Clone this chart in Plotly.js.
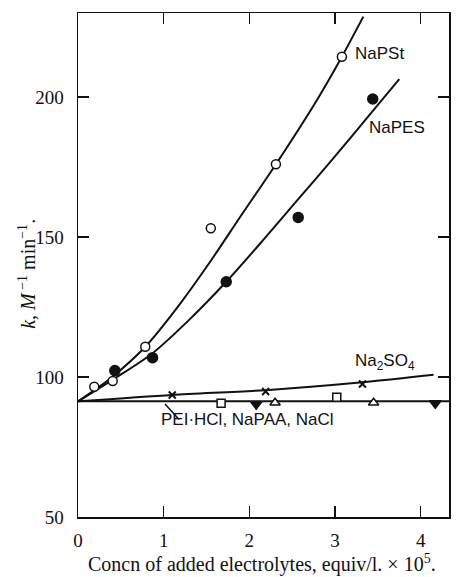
<!DOCTYPE html>
<html><head><meta charset="utf-8">
<script src="https://cdn.plot.ly/plotly-3.0.1.min.js"></script>
<style>html,body{margin:0;padding:0;background:#fff}#plot{width:458px;height:577px}</style>
</head><body><div id="plot"></div>
<script>
// Data points
const napstX = [0.19, 0.405, 0.785, 1.55, 2.31, 3.08];
const napstY = [96.5, 98.6, 110.8, 153.1, 176, 214.4];
const napesX = [0.43, 0.87, 1.73, 2.57, 3.44];
const napesY = [102.3, 106.9, 134, 157, 199.3];
const na2so4X = [1.10, 2.19, 3.32];
const na2so4Y = [93.6, 94.8, 97.5];
const peiX = [1.67, 3.02];
const peiY = [90.6, 92.75];
const napaaX = [2.30, 3.45];
const napaaY = [90.8, 90.8];
const naclX = [2.08, 4.17];
const naclY = [90.3, 90.6];
// Fitted curves
const napstCurveX = [0, 0.2, 0.4, 0.785, 1.2, 1.55, 1.9, 2.31, 2.8, 3.08, 3.33];
const napstCurveY = [91.3, 95.5, 100, 110.8, 126.5, 141.5, 157.5, 176, 199.5, 214.4, 228.7];
const napesCurveX = [0, 0.43, 0.87, 1.3, 1.73, 2.15, 2.57, 2.88, 3.06, 3.4, 3.75];
const napesCurveY = [91.3, 99.5, 108.5, 120.5, 134, 148.5, 163.5, 174.5, 181, 193.5, 206.4];
const na2so4CurveX = [0, 1.1, 2.19, 3.32, 4.15];
const na2so4CurveY = [91.3, 93.6, 95.3, 98.1, 100.8];
const flatX = [0, 4.33];
const flatY = [91.3, 91.3];
const xTicks = [0, 1, 2, 3, 4];
const yTicks = [50, 100, 150, 200];

const blk = '#111';
const line = (x, y) => ({x, y, mode: 'lines', line: {color: blk, width: 2, shape: 'spline', smoothing: 0.8}, hoverinfo: 'skip', showlegend: false});
const pts = (x, y, symbol, size, fill) => ({x, y, mode: 'markers', marker: {symbol, size, color: fill, line: {color: blk, width: 1.5}}, showlegend: false});

const data = [
  line(flatX, flatY),
  line(na2so4CurveX, na2so4CurveY),
  line(napesCurveX, napesCurveY),
  line(napstCurveX, napstCurveY),
  {x: na2so4X, y: na2so4Y, mode: 'markers', marker: {symbol: 'x-thin', size: 7, line: {color: blk, width: 2}}, showlegend: false},
  pts(peiX, peiY, 'square', 8, '#fff'),
  pts(napaaX, napaaY, 'triangle-up', 9, '#fff'),
  pts(naclX, naclY, 'triangle-down', 10, blk),
  pts(napstX, napstY, 'circle', 9, '#fff'),
  pts(napesX, napesY, 'circle', 10, blk)
];

const serif = 'Liberation Serif, Times New Roman, serif';
const sans = 'Liberation Sans, Arial, sans-serif';
const ann = (x, y, text, size) => ({x, y, xref: 'x', yref: 'y', text, showarrow: false, xanchor: 'center', yanchor: 'middle', font: {family: sans, size: size || 16, color: blk}});

const layout = {
  width: 458, height: 577,
  margin: {l: 78, r: 9, t: 13, b: 60},
  paper_bgcolor: '#fff', plot_bgcolor: '#fff',
  showlegend: false,
  xaxis: {range: [0, 4.33], tickvals: xTicks, ticks: 'inside', ticklen: 11, tickwidth: 1.5, tickcolor: blk,
    showline: true, linecolor: blk, linewidth: 1.5, mirror: 'ticks', showgrid: false, zeroline: false,
    tickfont: {family: serif, size: 19, color: blk}, ticklabelstandoff: 6},
  yaxis: {range: [50, 230], tickvals: yTicks, ticks: 'inside', ticklen: 11, tickwidth: 1.5, tickcolor: blk,
    showline: true, linecolor: blk, linewidth: 1.5, mirror: 'ticks', showgrid: false, zeroline: false,
    tickfont: {family: serif, size: 19, color: blk}, ticklabelstandoff: 9},
  annotations: [
    ann(3.52, 215.5, 'NaPSt', 17),
    ann(3.72, 189, 'NaPES', 17),
    ann(3.58, 105.2, 'Na<sub>2</sub>SO<sub>4</sub>', 17),
    ann(1.98, 85.0, 'PEI·HCl, NaPAA, NaCl', 17),
    {xref: 'paper', yref: 'paper', x: -0.138, y: 0.482, xanchor: 'center', yanchor: 'middle', textangle: -90, showarrow: false,
      text: '<i>k</i>, <i>M</i><sup> −1</sup> min<sup>−1</sup>.', font: {family: serif, size: 20, color: blk}},
    {xref: 'paper', yref: 'paper', x: 0.495, y: -0.092, xanchor: 'center', yanchor: 'middle', showarrow: false,
      text: 'Concn of added electrolytes, equiv/l. × 10<sup>5</sup>.', font: {family: serif, size: 20, color: blk}}
  ],
  shapes: [
    {type: 'line', xref: 'x', yref: 'y', x0: 1.015, y0: 90.4, x1: 1.18, y1: 84.8, line: {color: blk, width: 1.5}}
  ]
};
Plotly.newPlot('plot', data, layout, {staticPlot: true, displayModeBar: false});
</script></body></html>
